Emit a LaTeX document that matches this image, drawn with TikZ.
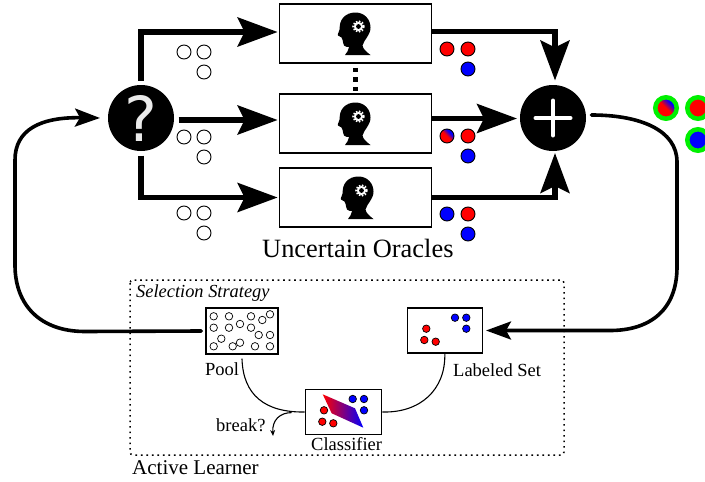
\documentclass[tikz,border=0pt]{standalone}
\usepackage{fontspec}
\setmainfont{Liberation Serif}
\newfontfamily\iconfont{DejaVu Sans}
\usetikzlibrary{arrows.meta}
\definecolor{ringgreen}{RGB}{0,240,0}
\pgfdeclareverticalshading{answermix}{100bp}{color(0bp)=(red); color(50bp)=(red); color(66bp)=(blue); color(100bp)=(blue)}
\tikzset{
  oracle/.style={draw,line width=1.7pt,minimum width=152pt,minimum height=59pt,inner sep=0pt},
  setbox/.style={draw,line width=1.4pt,inner sep=0pt},
  hub/.style={circle,fill=black,minimum size=66pt,inner sep=0pt,outer sep=4.5pt},
  ball/.style={circle,draw,line width=0.9pt,minimum size=14pt,inner sep=0pt},
  dot/.style={circle,draw,line width=0.7pt,minimum size=7.5pt,inner sep=0pt},
  ring/.style={circle,draw=ringgreen,line width=4.5pt,minimum size=21.5pt,inner sep=0pt},
  mixed/.style={shading=answermix,shading angle=-45},
  bigarrow/.style={line width=5.5pt,-{Stealth[length=40pt,width=29pt,inset=7pt]}},
  loopline/.style={line width=3.6pt,line cap=round},
  thinline/.style={line width=1.1pt},
  caption/.style={anchor=base west,inner sep=0pt,font=\fontsize{18.5}{20}\selectfont},
  thinker/.pic={
    \fill (-10.5,21.5) .. controls (-8.5,19) and (-7,17) .. (-6.5,13.5)
      .. controls (-8,13.5) and (-10,13.5) .. (-11.5,12) .. controls (-12.8,10.5) and (-12,8.5) .. (-12.8,6.8)
      .. controls (-13.5,5.8) and (-13,4.8) .. (-14,4) .. controls (-15.5,3.5) and (-15.5,3.2) .. (-17.5,2)
      .. controls (-18.5,1) and (-16,-2) .. (-15.8,-4.5) .. controls (-16.5,-14) and (-10,-21) .. (0,-21)
      .. controls (9,-21) and (15,-14) .. (15,-6) .. controls (15,2) and (8.5,6) .. (7,12)
      .. controls (7.5,15.5) and (11,18.5) .. (15,21.5) -- cycle;
    \fill[white] (3,-7) circle (4.6);
    \draw[white,line width=1.7pt,dash pattern=on 1.6pt off 1.55pt] (3,-7) circle (5.4);
    \fill (3,-7) circle (2.4);
  }
}
\begin{document}
\begin{tikzpicture}[x=1pt,y=-1pt]
  \clip (0,0) rectangle (705,482);
  % oracles
  \node[oracle] (oracletop) at (355.5,33.5) {};
  \node[oracle] (oraclemid) at (355.5,123.5) {};
  \node[oracle] (oraclelow) at (355.5,197.5) {};
  \pic at (oracletop.center) {thinker};
  \pic at (oraclemid.center) {thinker};
  \pic at ([xshift=3pt]oraclelow.center) {thinker};
  \draw[line width=4.5pt,dash pattern=on 4.5pt off 5pt] ([yshift=-4pt]oracletop.south) -- (oraclemid.north);
  % query and merge
  \node[hub] (query) at (141,118) {\iconfont\fontsize{62}{62}\selectfont\textcolor{black!8}{?}};
  \node[hub] (merge) at (553,118) {};
  \draw[white,line width=4pt,line cap=round] ([xshift=-17.5pt]merge.center) -- ([xshift=17.5pt]merge.center);
  \draw[white,line width=4pt,line cap=round] ([yshift=-17.5pt]merge.center) -- ([yshift=17.5pt]merge.center);
  \draw[bigarrow] (query.north) |- ([xshift=-1pt,yshift=1.5pt]oracletop.west);
  \draw[bigarrow] ([yshift=-2pt]query.east) -- ([xshift=-1pt,yshift=3.5pt]oraclemid.west);
  \draw[bigarrow] (query.south) |- ([xshift=-1pt]oraclelow.west);
  \draw[bigarrow] ([yshift=2pt]oracletop.east) -| ([xshift=2pt]merge.north);
  \draw[bigarrow] ([yshift=5pt]oraclemid.east) -- ([xshift=1.5pt,yshift=-0.5pt]merge.west);
  \draw[bigarrow] (oraclelow.east) -| ([xshift=2pt,yshift=2.5pt]merge.south);
  % unlabeled queries
  \foreach \nm/\x/\y in {qa/184/52,qb/204/52,qc/204/72,qd/184/137,qe/204/137,qf/204/157,qg/184/213,qh/204/213,qi/204/233}
    \node[ball] (\nm) at (\x,\y) {};
  % answers
  \foreach \nm/\x/\y/\c in {aa/447/49/red,ab/468/49/red,ac/468/69/blue,ae/468/136/red,af/468/156/blue,ag/447/214/blue,ah/468/214/red,ai/468/234/blue}
    \node[ball,fill=\c] (\nm) at (\x,\y) {};
  \node[ball,mixed] (ad) at (447,136) {};
  % merged answers
  \node[ring,mixed] (ma) at (666,108) {};
  \node[ring,fill=red] (mb) at (698,108) {};
  \node[ring,fill=blue] (mc) at (698,140) {};
  \node[anchor=base west,inner sep=0pt,font=\fontsize{26.4}{28}\selectfont] (oraclelabel) at (262,257) {Uncertain Oracles};
  % active learner
  \draw[line width=1.5pt,dash pattern=on 1.6pt off 3.9pt,rounded corners=3pt] (130,280) rectangle (564,455);
  \node[anchor=base west,inner sep=0pt,font=\fontsize{21}{24}\selectfont] (learnerlabel) at (132,474) {Active Learner};
  \node[caption,font=\fontsize{18.4}{20}\itshape] (strategylabel) at (136,297.7) {Selection Strategy};
  \node[setbox,minimum width=72pt,minimum height=46pt] (pool) at (242,331) {};
  \node[setbox,minimum width=75pt,minimum height=45pt] (labeled) at (444.8,330.5) {};
  \node[setbox,minimum width=76.4pt,minimum height=44.6pt] (classifier) at (343.5,412) {};
  \node[caption] (poollabel) at (205,375.7) {Pool};
  \node[caption] (labeledlabel) at (453,376) {Labeled Set};
  \node[caption] (classifierlabel) at (311,450.7) {Classifier};
  \node[caption] (breaklabel) at (216,431.7) {break?};
  \foreach \x/\y [count=\i] in {213.7/316.3,229/316.3,251/316.3,262.3/320,270/314.3,240/324,213.7/327.7,229/327.7,251/327.7,258.7/335,270/335,221.3/338.7,240/342.7,232.7/346.3,213.7/346.3,255/346.3,270/346.3}
    \node[dot] (p\i) at (\x,\y) {};
  \foreach \nm/\x/\y/\c in {la/455/317.7/blue,lb/466.3/317.7/blue,lc/466.3/328.7/blue,ld/426.3/328.7/red,le/424.3/340/red,lf/435.7/341.7/red}
    \node[dot,fill=\c] (\nm) at (\x,\y) {};
  \shade[left color=red,right color=blue] (322.7,394.3) -- (355,408.3) -- (363.3,427.7) -- (331.7,413.3) -- cycle;
  \foreach \nm/\x/\y/\c in {ca/352.7/399/blue,cb/364/399/blue,cc/364/410.3/blue,cd/324/410.3/red,ce/322.3/421.7/red,cf/333.3/423.3/red}
    \node[dot,fill=\c] (\nm) at (\x,\y) {};
  % connectors
  \coordinate (fork) at (291.7,412.6);
  \draw[thinline] ([yshift=-4pt]pool.south) .. controls (243,395) and (265,412.6) .. (classifier.west);
  \draw[thinline] (classifier.east) .. controls (420,413) and (445.7,390) .. (labeled.south);
  \draw[thinline,-{Stealth[length=6pt,width=5pt]}] (fork) .. controls (280,412.6) and (272,420) .. (273,436);
  \draw[loopline,-{Stealth[length=25pt,width=18pt,inset=5pt]}] ([xshift=1pt,yshift=3pt]merge.east) .. controls (640,115) and (677,130) .. (677,162) -- (677,267) .. controls (677,310) and (650,330.5) .. (610,330.5) -- ([xshift=3pt]labeled.east);
  \draw[loopline,-{Stealth[length=25pt,width=18pt,inset=5pt]}] ([xshift=-4pt]pool.west) -- (85,331.5) .. controls (40,331.5) and (15,305) .. (15,265) -- (15,160) .. controls (15,130) and (40,117) .. ([xshift=-3.5pt]query.west);
\end{tikzpicture}
\end{document}
